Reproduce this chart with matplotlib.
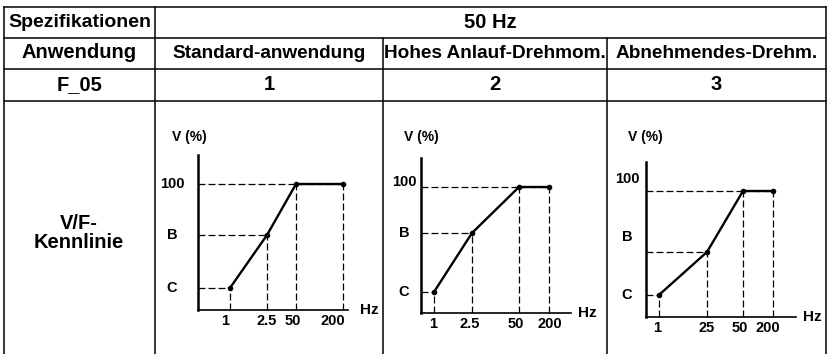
import matplotlib.pyplot as plt

plt.rcParams['font.family'] = ['Liberation Sans', 'DejaVu Sans']
plt.rcParams['font.weight'] = 'bold'
plt.rcParams['lines.scale_dashes'] = False

# Tabellentexte
spec_label = 'Spezifikationen'
freq_header = '50 Hz'
row_labels = ['Anwendung', 'F_05', 'V/F-\nKennlinie']
applications = ['Standard-anwendung', 'Hohes Anlauf-Drehmom.', 'Abnehmendes-Drehm.']
f05_values = ['1', '2', '3']

# V/F-Kennlinien: Lage auf der (schematischen) Frequenzachse und Spannung in %
freq_labels = [['1', '2.5', '50', '200'],
               ['1', '2.5', '50', '200'],
               ['1', '25', '50', '200']]
freq_pos = [[32, 69, 98, 145],
            [13, 51, 98, 128],
            [13, 61, 97, 127]]
volt = [[17.5, 59.5, 100, 100],
        [16.7, 63.5, 100, 100],
        [17.5, 51.6, 100, 100]]
volt_labels = ['C', 'B', '100']
volt_label_pos = [[17.5, 59.5, 100],
                  [16.7, 63.5, 104],
                  [17.5, 63.5, 109.5]]
freq_label_pos = [[27, 69, 95, 135],
                  [12, 49, 95, 129],
                  [11, 61, 94, 122]]

W, H = 827, 354
fig = plt.figure(figsize=(W / 100, H / 100), dpi=100)
ax = fig.add_axes([0, 0, 1, 1])
ax.set_xlim(0, W)
ax.set_ylim(H, 0)
ax.axis('off')

# Tabellenraster
lw_tab = 1.1
col_x = [4, 155, 383, 607, 826]
row_y = [7, 37.5, 68.5, 100.5]
for y in row_y:
    ax.plot([col_x[0], col_x[-1]], [y, y], color='black', lw=lw_tab)
ax.plot([col_x[0]] * 2, [7, H], color='black', lw=lw_tab)
ax.plot([col_x[1]] * 2, [7, H], color='black', lw=lw_tab)
ax.plot([col_x[2]] * 2, [37.5, H], color='black', lw=lw_tab)
ax.plot([col_x[3]] * 2, [37.5, H], color='black', lw=lw_tab)
ax.plot([col_x[4]] * 2, [7, H], color='black', lw=lw_tab)

fs = 14.5
c0 = (col_x[0] + col_x[1]) / 2
ax.text(c0, 22.5, spec_label, ha='center', va='center', fontsize=fs - 0.5)
ax.text((col_x[1] + col_x[4]) / 2, 22.5, freq_header, ha='center', va='center', fontsize=fs)
ax.text(c0, 53, row_labels[0], ha='center', va='center', fontsize=fs)
ax.text(c0, 84.5, row_labels[1], ha='center', va='center', fontsize=fs)
ax.text(c0 - 1, 233, row_labels[2], ha='center', va='center', fontsize=fs,
        multialignment='center', linespacing=1.05)
for i in range(3):
    cx = (col_x[i + 1] + col_x[i + 2]) / 2
    ax.text(cx, 53, applications[i], ha='center', va='center', fontsize=13.7)
    ax.text(cx, 84.5, f05_values[i], ha='center', va='center', fontsize=fs)

# Diagramme
origins = [(198, 310), (421, 313), (646, 317)]
vlabel_x = [-26, -17, -19]
vpct_x = [189, 421, 645]
px_per_unit = 1.26
dash = (0, (5, 2.2))

for k, (ox, oy) in enumerate(origins):
    cax = fig.add_axes([ox / W, (H - oy) / H, 150 / W, 123 * px_per_unit / H])
    cax.set_xlim(0, 150)
    cax.set_ylim(0, 123)
    cax.patch.set_alpha(0)
    for s in ['top', 'right']:
        cax.spines[s].set_visible(False)
    cax.spines['left'].set_linewidth(1.8)
    cax.spines['bottom'].set_linewidth(1.2)
    cax.set_yticks([])
    cax.set_xticks(freq_label_pos[k], freq_labels[k])
    cax.tick_params(axis='x', length=0, pad=3, labelsize=10.5)

    xs, vs = freq_pos[k], volt[k]
    cax.vlines(xs, 0, vs, colors='black', lw=0.9, linestyles=[dash])
    cax.hlines(vs[:3], 0, xs[:3], colors='black', lw=0.9, linestyles=[dash])
    cax.hlines(vs[3], xs[2], xs[3], colors='black', lw=0.9, linestyles=[dash])
    cax.plot(xs, vs, color='black', lw=1.7, marker='o', ms=3, clip_on=False)

    for lab, ly in zip(volt_labels, volt_label_pos[k]):
        cax.text(vlabel_x[k], ly, lab, ha='center', va='center', fontsize=10.5)
    cax.text(157 if k else 162, 0, 'Hz', ha='left', va='center', fontsize=11,
             clip_on=False)
    ax.text(vpct_x[k], 137, 'V (%)', ha='center', va='center', fontsize=10)

fig.savefig('out.png', dpi=100)
